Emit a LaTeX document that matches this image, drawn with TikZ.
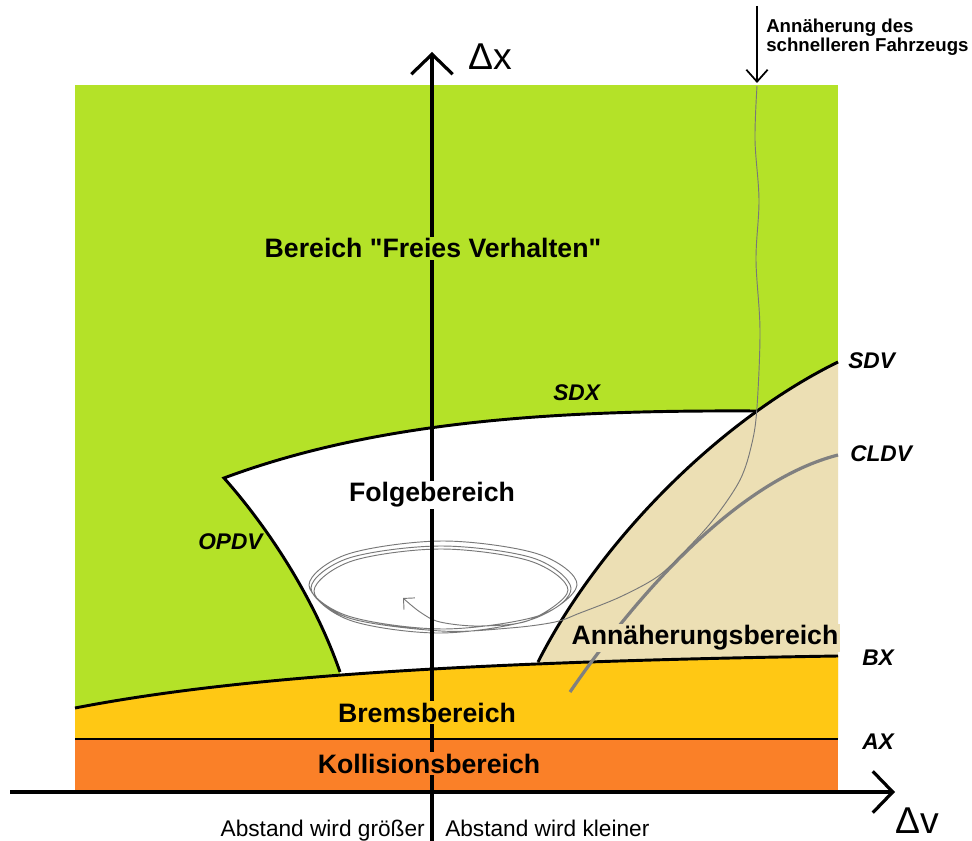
\documentclass[tikz,border=0pt]{standalone}
\usepackage{fontspec}
\setmainfont{Liberation Sans}
\newfontfamily\plainquote{Liberation Sans}
\usetikzlibrary{arrows.meta}

\definecolor{freigreen}{RGB}{180,226,40}
\definecolor{annbeige}{RGB}{236,223,180}
\definecolor{bremsyellow}{RGB}{255,200,20}
\definecolor{kollorange}{RGB}{250,128,40}
\definecolor{trajgray}{RGB}{120,120,120}
\definecolor{cldvgray}{RGB}{128,128,128}

\begin{document}
\begin{tikzpicture}[x=0.75pt, y=-0.75pt,
    region/.style={font=\bfseries\fontsize{20}{24}\selectfont, inner sep=1pt},
    curvelabel/.style={font=\bfseries\itshape\fontsize{17}{20}\selectfont, inner sep=0pt, anchor=base west},
    bound/.style={line width=2.2pt, line join=miter},
    axis/.style={line width=2.4pt, -{Straight Barb[length=15pt, width=31pt]}},
    traj/.style={draw=trajgray, line width=0.7pt, -{Straight Barb[length=6pt, width=12pt]}}]
    \fill[white] (0,0) rectangle (972,841);
    \useasboundingbox (0,0) rectangle (972,841);

    % regions
    \fill[freigreen] (75,85) rectangle (838,792);
    \fill[white] (224,478) .. controls (380,420) and (560,410) .. (757,411) -- (560,700) -- (345,700) -- (340,672) .. controls (315,600) and (270,530) .. (224,478) -- cycle;
    \fill[annbeige] (538,662) .. controls (600,540) and (720,420) .. (838,362) -- (838,700) -- (525,700) -- cycle;
    \fill[bremsyellow] (75,708) .. controls (230,678) and (450,662) .. (838,656) -- (838,739) -- (75,739) -- cycle;
    \fill[kollorange] (75,739) rectangle (838,792);

    % boundaries
    \draw[bound] (340,672) .. controls (315,600) and (270,530) .. (224,478) .. controls (380,420) and (560,410) .. (757,411);
    \draw[bound] (538,662) .. controls (600,540) and (720,420) .. (838,362);
    \draw[bound] (75,708) .. controls (230,678) and (450,662) .. (838,656);
    \draw[bound] (75,739) -- (838,739);
    \draw[cldvgray, line width=2.4pt] (570,692) .. controls (640,590) and (740,480) .. (838,455);

    % trajectory of the faster vehicle
    \draw[traj] plot[smooth, tension=0.55] coordinates {(757,86) (755,140) (759,200) (756,260) (760,330) (757,407) (752,443) (740,480) (713,520) (683,553) (657,577) (620,597) (580,613) (555,622) (510,628) (441,631) (349,618) (311,588) (349,558) (441,546) (533,558) (571,588) (538,616) (443,629) (348,616) (309,585) (348,554) (443,541) (538,554) (577,585) (533,619) (441,633) (352,621) (314,591) (352,561) (441,549) (530,561) (568,590) (530,620) (480,626) (440,622) (420,612) (403,598)};

    % axes
    \coordinate (yend) at (432,841);
    \coordinate (ytip) at (432,52);
    \coordinate (xstart) at (10,792);
    \coordinate (xtip) at (895,792);
    \draw[axis] (yend) -- (ytip);
    \draw[axis] (xstart) -- (xtip);
    \node[font=\fontsize{28}{32}\selectfont, inner sep=0pt] (dx) at (490,57) {Δx};
    \node[font=\fontsize{28}{32}\selectfont, inner sep=0pt, anchor=north] (dv) at (917,808) {Δv};

    \coordinate (carstart) at (757,6);
    \coordinate (carend) at (757,83);
    \draw[line width=1.3pt, -{Straight Barb[length=9pt, width=16pt]}] (carstart) -- (carend);
    \node[font=\bfseries\fontsize{14}{14}\selectfont, align=left, anchor=north west, inner sep=0pt] (note) at (766,19) {Annäherung des\\schnelleren Fahrzeugs};

    % region labels
    \node[region, fill=freigreen, anchor=base] (frei) at (433,258) {Bereich {\plainquote "}Freies Verhalten{\plainquote "}};
    \node[region, fill=white] (folge) at (432,495) {Folgebereich};
    \node[region, fill=annbeige, anchor=base] (ann) at (705,645) {Annäherungsbereich};
    \node[region, fill=bremsyellow, anchor=base] (brems) at (427,722) {Bremsbereich};
    \node[region, fill=kollorange, anchor=base] (koll) at (429,773) {Kollisionsbereich};

    % curve labels
    \node[curvelabel] (sdx) at (553,401) {SDX};
    \node[curvelabel] (sdv) at (848,369) {SDV};
    \node[curvelabel] (cldv) at (850,462) {CLDV};
    \node[curvelabel] (bx) at (862,666) {BX};
    \node[curvelabel] (ax) at (862,749) {AX};
    \node[curvelabel] (opdv) at (198,550) {OPDV};

    \node[font=\fontsize{17}{20}\selectfont, anchor=base east, inner sep=0pt] (groesser) at (425,836) {Abstand wird größer};
    \node[font=\fontsize{17}{20}\selectfont, anchor=base west, inner sep=0pt] (kleiner) at (445,836) {Abstand wird kleiner};
\end{tikzpicture}
\end{document}
